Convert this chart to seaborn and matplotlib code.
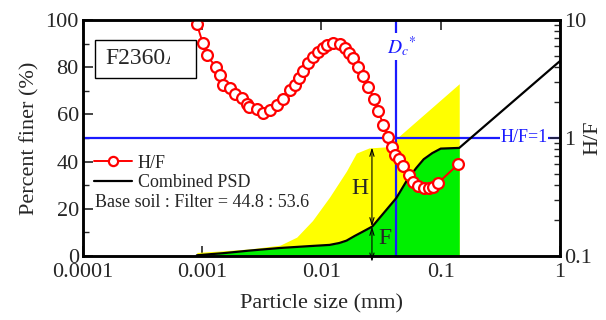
import matplotlib
matplotlib.use("Agg")
import matplotlib.pyplot as plt
import matplotlib.ticker as mticker
from matplotlib.patches import Rectangle
import numpy as np
import seaborn as sns

# combined particle size distribution (mm, percent finer)
psd_size = [0.0009, 0.0015, 0.0025, 0.0045, 0.0080, 0.0117, 0.0141, 0.0162, 0.0190,
            0.0220, 0.0267, 0.0330, 0.0425, 0.0520, 0.0624, 0.0720, 0.0850, 0.1000,
            0.1430, 1.0]
psd_finer = [0.3, 1.2, 2.3, 3.4, 4.2, 4.7, 5.5, 6.5, 8.5,
             10.2, 12.5, 18.0, 24.6, 32.0, 37.3, 41.0, 43.6, 45.5,
             45.8, 82.6]

# upper (yellow) envelope
env_size = [0.0009, 0.0015, 0.0025, 0.0045, 0.0062, 0.0084, 0.0117, 0.0162, 0.0196,
            0.0251, 0.0420, 0.0430, 0.1430]
env_finer = [1.5, 2.2, 3.0, 4.6, 8.0, 15.0, 25.0, 36.0, 43.6,
             45.8, 46.5, 50.0, 73.0]

# H/F ratio
hf_size = [0.00090, 0.00101, 0.00109, 0.00130, 0.00140, 0.00149, 0.00170, 0.00187, 0.00214, 0.00236,
           0.00249, 0.00286, 0.00321, 0.00367, 0.00420, 0.00472, 0.00540, 0.00594, 0.00643, 0.00706,
           0.00778, 0.00857, 0.00944, 0.0102, 0.0112, 0.0124, 0.0142, 0.0156, 0.0171, 0.0185,
           0.0204, 0.0224, 0.0247, 0.0278, 0.0300, 0.0330, 0.0364, 0.0393, 0.0416, 0.0450,
           0.0485, 0.0544, 0.0589, 0.0649, 0.0728, 0.0802, 0.0865, 0.0953, 0.140]
hf_ratio = [9.25, 6.38, 5.05, 4.00, 3.42, 2.81, 2.66, 2.36, 2.18, 1.94,
            1.83, 1.76, 1.63, 1.72, 1.90, 2.14, 2.55, 2.81, 3.22, 3.70,
            4.33, 4.86, 5.35, 5.80, 6.14, 6.38, 6.26, 5.80, 5.25, 4.76,
            4.00, 3.35, 2.70, 2.14, 1.69, 1.29, 1.02, 0.84, 0.72, 0.66,
            0.58, 0.49, 0.42, 0.39, 0.377, 0.377, 0.384, 0.416, 0.60]

dc_star = 0.0425
h_pos = 0.0265
h_top, h_mid = 46.0, 12.5
fill_end = 0.143

x_ticks = [0.0001, 0.001, 0.01, 0.1, 1]
x_labels = ["0.0001", "0.001", "0.01", "0.1", "1"]

sns.set_style("ticks")
plt.rcParams["font.family"] = ["Liberation Serif", "DejaVu Serif"]
plt.rcParams["mathtext.fontset"] = "stix"

fig = plt.figure(figsize=(6.06, 3.2), dpi=100)
ax = fig.add_axes([0.137, 0.2, 0.787, 0.7375])

# fills
ax.fill_between(env_size, env_finer, 0, color="#ffff00", lw=0, zorder=1)
psd_x = np.array(psd_size)
psd_y = np.array(psd_finer)
m = psd_x <= fill_end
ax.fill_between(psd_x[m], psd_y[m], 0, color="#00f000", lw=0, zorder=1.2)

sns.lineplot(x=psd_size, y=psd_finer, ax=ax, color="black", lw=1.6,
             estimator=None, label="Combined PSD", legend=False, zorder=3)

ax.set_xscale("log")
ax.set_xlim(0.0001, 1)
ax.set_ylim(0, 100)

# guide lines
ax.axvline(dc_star, color="#1a1aff", lw=1.6, zorder=2.5)
ax.axhline(50, color="#1a1aff", lw=1.6, zorder=2.5)
ax.text(0.0475, 88.8, r"$D_c{}^{*}$", color="#1a1aff", fontsize=14, ha="center", va="center",
        bbox=dict(facecolor="white", edgecolor="none", pad=0.5), zorder=2.6)
ax.text(0.876, 0.5, "H/F=1", transform=ax.transAxes, color="#1a1aff", fontsize=13,
        ha="left", va="center", bbox=dict(facecolor="white", edgecolor="none", pad=0.3), zorder=2.6)

# H and F arrows
arr = dict(arrowstyle="<->,head_length=0.5,head_width=0.15", color="black", lw=0.8,
           shrinkA=0, shrinkB=0)
ax.annotate("", xy=(h_pos, h_top), xytext=(h_pos, h_mid), arrowprops=arr, zorder=4)
ax.annotate("", xy=(h_pos, h_mid), xytext=(h_pos, -2.5), arrowprops=arr, zorder=4,
            annotation_clip=False)
ax.text(0.0208, 28.8, "H", fontsize=17, ha="center", va="center", zorder=4)
ax.text(0.0343, 7.6, "F", fontsize=17, ha="center", va="center", zorder=4)

# ticks and labels
ax.set_xticks(x_ticks, labels=x_labels)
ax.xaxis.set_minor_locator(mticker.NullLocator())
ax.set_yticks([0, 20, 40, 60, 80, 100])
ax.yaxis.set_minor_locator(mticker.MultipleLocator(10))
ax.tick_params(axis="both", which="major", direction="in", length=7, width=1.2,
               labelsize=16, pad=3, top=True, right=False)
ax.tick_params(axis="x", which="major", pad=5)
ax.tick_params(axis="y", which="minor", direction="in", length=4.5, width=1.0, right=False)
ax.set_xlabel("Particle size (mm)", fontsize=16, labelpad=9)
ax.set_ylabel("Percent finer (%)", fontsize=16, labelpad=4)

# right axis with H/F
ax2 = ax.twinx()
sns.lineplot(x=hf_size, y=hf_ratio, ax=ax2, color="red", lw=1.4, marker="o",
             markersize=7.8, markerfacecolor="white", markeredgecolor="red",
             markeredgewidth=1.6, estimator=None, sort=False, label="H/F", legend=False,
             zorder=5)
ax2.set_yscale("log")
ax2.set_ylim(0.1, 10)
ax2.set_xlim(0.0001, 1)
ax2.set_yticks([0.1, 1, 10], labels=["0.1", "1", "10"])
ax2.tick_params(axis="y", which="major", direction="in", length=7, width=1.2,
                labelsize=16, pad=3)
ax2.tick_params(axis="y", which="minor", direction="in", length=4, width=1.0)
ax2.yaxis.set_minor_formatter(mticker.NullFormatter())
ax2.set_ylabel("H/F", fontsize=16)
ax2.yaxis.set_label_coords(1.05, 0.5)

for a in (ax, ax2):
    for s in a.spines.values():
        s.set_linewidth(1.8)
        s.set_color("black")
        s.set_zorder(6)

# legend
h_hf = ax2.get_lines()[0]
h_psd = ax.get_lines()[0]
ax2.legend([h_hf, h_psd], ["H/F", "Combined PSD"], loc="upper left",
           bbox_to_anchor=(0.016, 0.445), frameon=False, fontsize=13,
           handlelength=2.1, handletextpad=0.3, labelspacing=0.15, borderpad=0.2,
           borderaxespad=0.0, markerscale=0.85)
ax2.text(0.025, 0.225, "Base soil : Filter = 44.8 : 53.6", transform=ax2.transAxes,
         fontsize=13, ha="left", va="center")

# sample label box, text cut short as in the original
box = Rectangle((0.025, 0.754), 0.212, 0.161, transform=ax2.transAxes,
                facecolor="white", edgecolor="black", lw=1.0, zorder=7)
ax2.add_patch(box)
clip = Rectangle((0.025, 0.754), 0.158, 0.161, transform=ax2.transAxes,
                 facecolor="none", edgecolor="none")
ax2.add_patch(clip)
lab = ax2.text(0.046, 0.835, "F2360A", transform=ax2.transAxes, fontsize=17,
               ha="left", va="center", zorder=8)
lab.set_clip_on(True)
lab.set_clip_path(clip)

fig.savefig("out.png", dpi=100)
